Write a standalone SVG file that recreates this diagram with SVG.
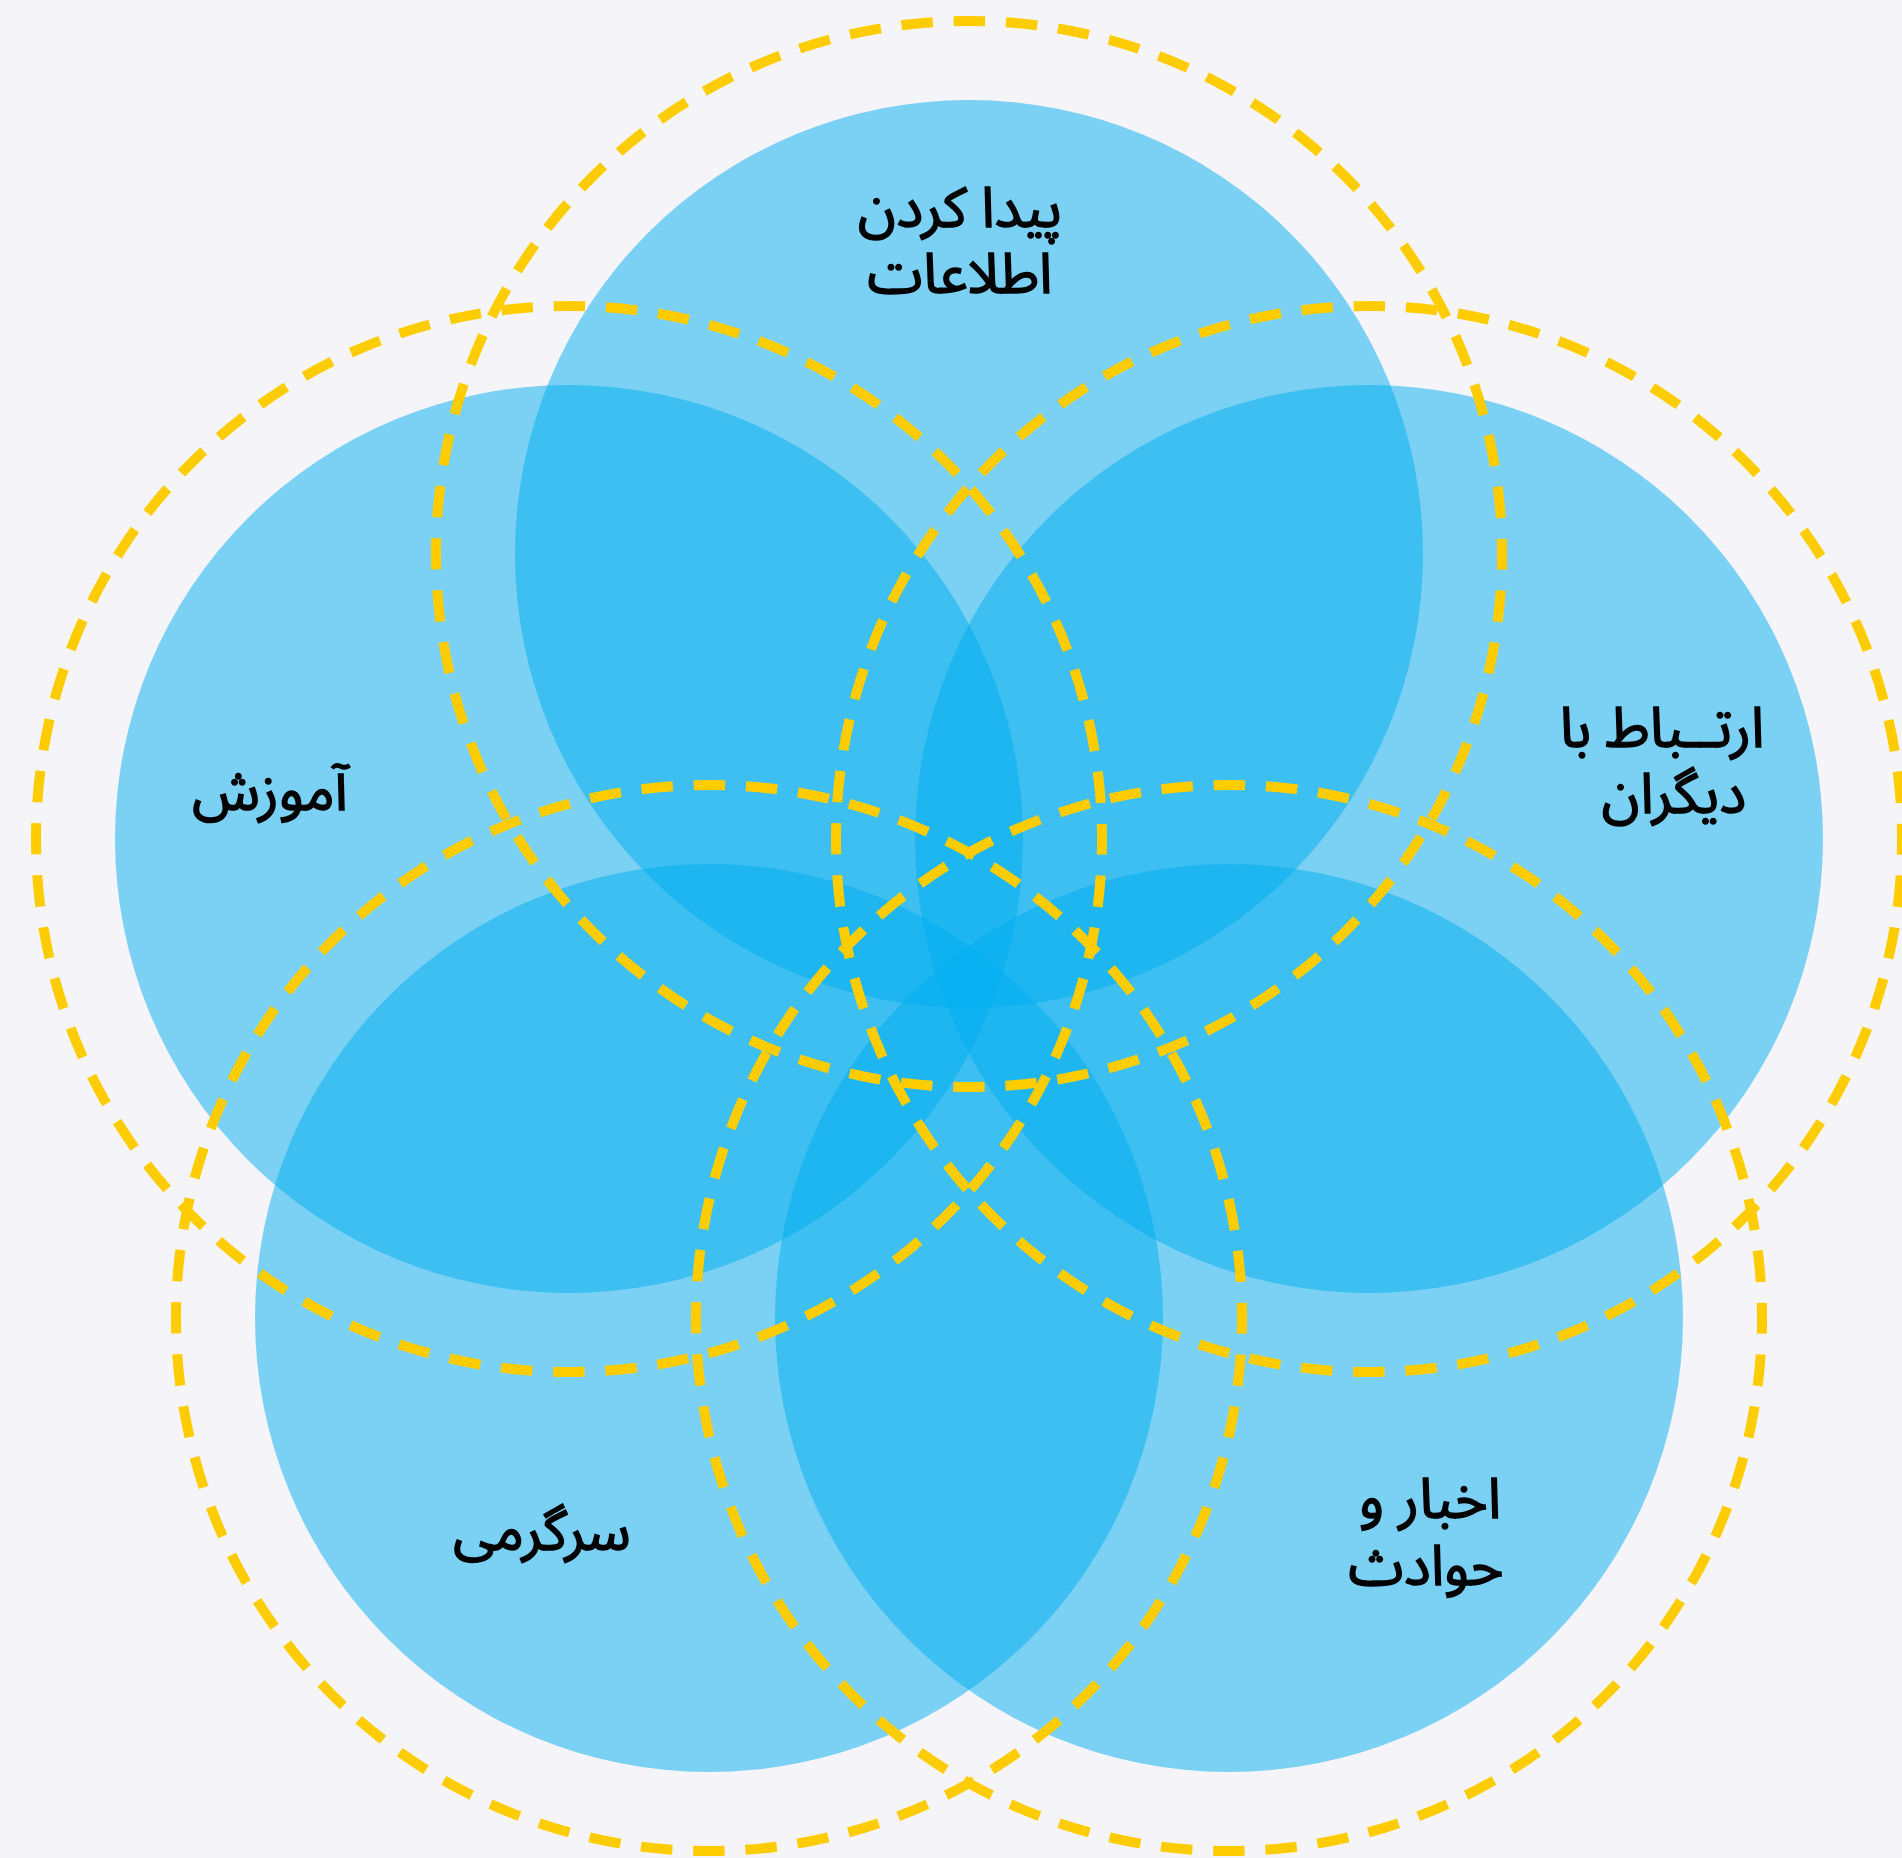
<svg xmlns="http://www.w3.org/2000/svg" width="1902" height="1858" viewBox="0 0 1902 1858">
<style>
.blob{fill:#00AEEF;fill-opacity:0.5;}
.ring{fill:none;stroke:#FFCC00;stroke-width:10;stroke-dasharray:31.5 20.83;stroke-dashoffset:15.75;}
.lbl{font-family:"Noto Sans Arabic","DejaVu Sans",sans-serif;font-size:56px;fill:#000;stroke:#000;stroke-width:1.5px;text-anchor:middle;}
</style>
<rect x="0" y="0" width="1902" height="1858" fill="#F4F4F9"/>
<g id="node-info">
<circle class="blob" cx="969" cy="554" r="454"/>
<text class="lbl" x="960" y="227">پیدا کردن</text>
<text class="lbl" x="960" y="293">اطلاعات</text>
</g>
<g id="node-education">
<circle class="blob" cx="569" cy="839" r="454"/>
<text class="lbl" x="270" y="810">آموزش</text>
</g>
<g id="node-communication">
<circle class="blob" cx="1369" cy="839" r="454"/>
<text class="lbl" x="1662" y="747">ارتــباط با</text>
<text class="lbl" x="1674" y="813">دیگران</text>
</g>
<g id="node-entertainment">
<circle class="blob" cx="709" cy="1318" r="454"/>
<text class="lbl" x="542" y="1550">سرگرمی</text>
</g>
<g id="node-news">
<circle class="blob" cx="1229" cy="1318" r="454"/>
<text class="lbl" x="1430" y="1518">اخبار و</text>
<text class="lbl" x="1426" y="1585">حوادث</text>
</g>
<g id="connectors">
<circle class="ring" cx="969" cy="554" r="533"/>
<circle class="ring" cx="569" cy="839" r="533"/>
<circle class="ring" cx="1369" cy="839" r="533"/>
<circle class="ring" cx="709" cy="1318" r="533"/>
<circle class="ring" cx="1229" cy="1318" r="533"/>
</g>
</svg>
